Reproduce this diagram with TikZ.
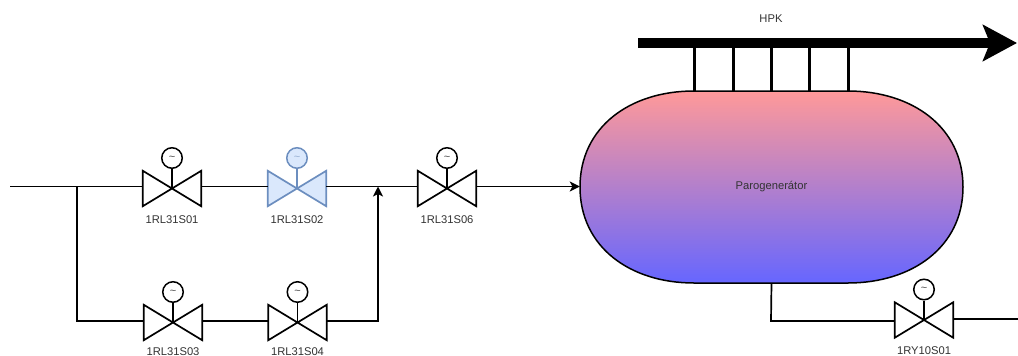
\documentclass[tikz,border=0pt]{standalone}
\usepackage{fontspec}
\setmainfont{Liberation Sans}
\usetikzlibrary{arrows.meta}
\definecolor{valveFill}{HTML}{DAE8FC}
\definecolor{valveLine}{HTML}{6C8EBF}
\begin{document}
\begin{tikzpicture}
[x=1pt,y=-1pt,%
  lineDecorate/.style={line width=1.7pt},%
  flowDecorate/.style={lineDecorate,-{Stealth[length=10pt,width=10pt,inset=2.5pt]}},%
  stubDecorate/.style={line width=3pt},%
  valveDecorate/.style={shape=rectangle,minimum width=58pt,minimum height=35pt,inner sep=0pt},%
  motorDecorate/.style={shape=circle,minimum size=20.5pt,inner sep=0pt,draw,line width=1.5pt,fill=white},%
  textDecorate/.style={text=black!80,inner sep=0pt,font=\fontsize{11.2}{12}\selectfont}]
\useasboundingbox (0,0) rectangle (1018,356);
%% vessel and header
\draw [line width=1.5pt,top color=red!40,bottom color=blue!60]
  (580,187) .. controls (580,127) and (630,91) .. (694,91) -- (848,91)
  .. controls (912,91) and (963,127) .. (963,187)
  .. controls (963,247) and (912,283) .. (848,283) -- (694,283)
  .. controls (630,283) and (580,247) .. (580,187) -- cycle;
\node (pg) at (771.5,187) [shape=rectangle,minimum width=383pt,minimum height=192pt,textDecorate] {Parogenerátor};
\node (hpk) at (771,19) [textDecorate] {HPK};
\coordinate (hs) at (638,43);
\coordinate (he) at (1017,43);
\foreach \stubname/\x in {p/694.5,q/733,r/771,s/809,t/848}
{
  \coordinate (\stubname) at (\x,43);
  \draw [stubDecorate] (\stubname) -- (\stubname |- pg.north);
}
\draw [line width=10pt,-{Stealth[length=34pt,width=36pt,inset=7pt]}] (hs) -- (he);
%% valves
\foreach \nodename/\x/\y/\ty/\name/\fillcol/\linecol in {
  a/172/188.5/220/1RL31S01/white/black, b/297/188.5/220/1RL31S02/valveFill/valveLine,
  c/173/322.5/351.5/1RL31S03/white/black, d/297.5/322.5/351.5/1RL31S04/white/black,
  e/447/188.5/220/1RL31S06/white/black, f/924/320/350.5/1RY10S01/white/black}
{
  \node (\nodename) at (\x,\y) [valveDecorate] {};
  \node (\nodename m) at (\x,\y-30.5) [motorDecorate,draw=\linecol,fill=\fillcol,text=\linecol!70,font=\fontsize{11}{11}\selectfont] {\textasciitilde};
  \node (\nodename t) at (\x,\ty) [textDecorate] {\name};
  \draw [lineDecorate,draw=\linecol,fill=\fillcol] (\nodename.north west) -- (\nodename.south east)
    -- (\nodename.north east) -- (\nodename.south west) -- cycle;
  \draw [lineDecorate,draw=\linecol] (\nodename m) -- (\nodename.center);
}
%% lines
\coordinate (in) at (10,186.5);
\coordinate (split) at (77,186.5);
\coordinate (join) at (378,186.5);
\coordinate (lowl) at (77,320.7);
\coordinate (lowr) at (378,320.7);
\coordinate (outl) at (771,321);
\coordinate (out) at (1018,319);
\draw [lineDecorate] (in) -- (in -| a.west);
\draw [lineDecorate] (in -| a.east) -- (in -| b.west);
\draw [lineDecorate] (in -| b.east) -- (in -| e.west);
\draw [lineDecorate] (split) -- (lowl) -- (lowl -| c.west);
\draw [lineDecorate] (lowl -| c.east) -- (lowl -| d.west);
\draw [flowDecorate] (lowl -| d.east) -- (lowr) -- (join);
\draw [flowDecorate] (in -| e.east) -- (in -| pg.west);
\draw [lineDecorate] (pg.south) -- (outl) -- (outl -| f.west);
\draw [lineDecorate] (out -| f.east) -- (out);
\end{tikzpicture}
\end{document}
